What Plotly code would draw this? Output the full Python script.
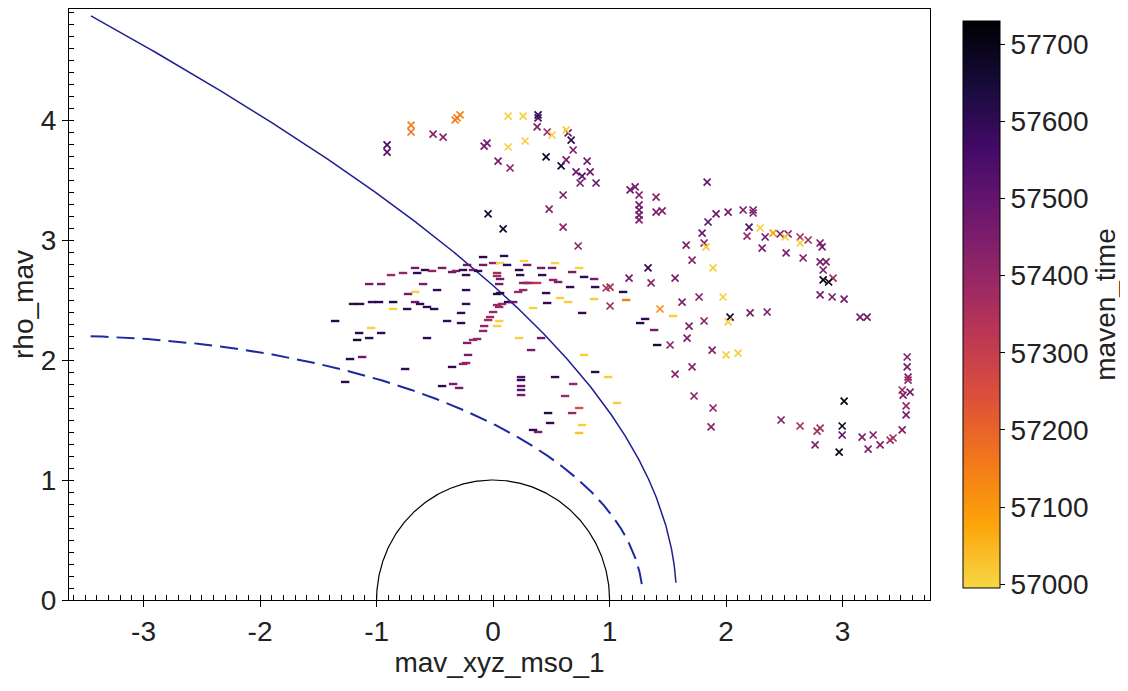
import numpy as np
import plotly.graph_objects as go

# ---------------- data: "x" markers (mav_xyz_mso_1, rho_mav, maven_time) ----------------
cross_top_x = [-0.910, -0.910, -0.704, -0.704, -0.515, -0.429, -0.326, -0.283, -0.309, 0.129,
               0.258, 0.386, 0.386, 0.378, 0.464, 0.506, 0.644, 0.627, 0.670, -0.052,
               -0.077, 0.129, 0.275, 0.455, 0.584, 0.627, 0.807, 0.687, 0.712, 0.764,
               0.833, 0.884, 0.747, 0.601, 0.481, 0.601, 0.730, -0.043, 0.086, 0.043, 0.146]
cross_top_y = [3.792, 3.733, 3.958, 3.90, 3.883, 3.858, 4.0, 4.042, 4.017, 4.033,
               4.033, 4.042, 4.017, 3.942, 3.90, 3.875, 3.892, 3.917, 3.833, 3.808,
               3.783, 3.775, 3.825, 3.692, 3.617, 3.667, 3.658, 3.75, 3.567, 3.533,
               3.567, 3.475, 3.475, 3.375, 3.258, 3.108, 2.95, 3.217, 3.092, 3.658, 3.60]
cross_top_t = [57560, 57520, 57150, 57170, 57420, 57420, 57170, 57140, 57150, 57005,
               57008, 57620, 57560, 57440, 57400, 57010, 57480, 57005, 57600, 57480,
               57460, 57010, 57012, 57680, 57650, 57460, 57460, 57460, 57480, 57530,
               57480, 57500, 57460, 57460, 57420, 57420, 57420, 57650, 57680, 57460, 57420]

cross_arc_x = [1.219, 1.176, 1.253, 1.399, 1.253, 1.253, 1.253, 1.253, 1.399, 1.451,
               1.837, 1.845, 1.914, 2.017, 2.146, 2.232, 2.232, 2.197, 2.180, 2.292,
               2.335, 2.309, 2.403, 2.464, 2.532, 2.506, 2.635, 2.704, 2.635, 2.807,
               2.824, 2.515, 2.661, 2.807, 2.858, 2.833, 2.833, 2.918, 2.88, 2.807,
               2.910, 3.013, 3.150, 3.21]
cross_arc_y = [3.442, 3.417, 3.375, 3.358, 3.292, 3.25, 3.208, 3.167, 3.233, 3.242,
               3.483, 3.15, 3.217, 3.233, 3.25, 3.25, 3.225, 3.108, 3.033, 3.10,
               3.025, 2.933, 3.058, 3.05, 3.05, 3.025, 3.025, 3.0, 2.975, 2.975,
               2.942, 2.892, 2.85, 2.817, 2.817, 2.75, 2.667, 2.683, 2.65, 2.542,
               2.525, 2.508, 2.358, 2.358]
cross_arc_t = [57460, 57480, 57460, 57420, 57460, 57480, 57460, 57450, 57440, 57440,
               57480, 57530, 57480, 57460, 57460, 57460, 57440, 57530, 57390, 57010,
               57480, 57460, 57090, 57460, 57460, 57010, 57370, 57370, 57015, 57460,
               57460, 57440, 57440, 57460, 57460, 57460, 57700, 57370, 57700, 57460,
               57460, 57460, 57460, 57460]

cross_mid_x = [1.811, 1.828, 1.794, 1.657, 1.708, 1.888, 1.974, 1.330, 1.167, 1.356,
               1.562, 0.970, 1.004, 1.004, 1.433, 1.768, 1.622, 1.682, 1.811, 2.034,
               2.017, 2.206, 2.352, 1.665, 1.519, 1.880, 2.0, 2.103, 1.708, 1.562,
               1.725, 1.888, 1.871]
cross_mid_y = [2.975, 2.942, 3.058, 2.958, 2.833, 2.767, 2.525, 2.767, 2.683, 2.642,
               2.683, 2.60, 2.608, 2.45, 2.425, 2.525, 2.483, 2.283, 2.325, 2.358,
               2.317, 2.392, 2.40, 2.183, 2.125, 2.083, 2.042, 2.058, 1.942, 1.883,
               1.70, 1.60, 1.442]
cross_mid_t = [57460, 57015, 57480, 57440, 57420, 57008, 57008, 57600, 57460, 57420,
               57440, 57370, 57370, 57390, 57120, 57440, 57440, 57440, 57440, 57650,
               57008, 57460, 57460, 57440, 57420, 57440, 57008, 57008, 57420, 57420,
               57420, 57420, 57420]

cross_right_x = [3.554, 3.554, 3.562, 3.562, 3.511, 3.579, 3.519, 3.545, 3.545, 3.511,
                 3.433, 3.408, 3.322, 3.262, 3.167, 3.219, 3.013, 2.996, 2.996, 2.970,
                 2.807, 2.781, 2.764, 2.635, 2.472]
cross_right_y = [2.025, 1.942, 1.858, 1.833, 1.75, 1.733, 1.708, 1.617, 1.542, 1.417,
                 1.35, 1.333, 1.292, 1.375, 1.358, 1.258, 1.658, 1.45, 1.375, 1.233,
                 1.433, 1.408, 1.292, 1.45, 1.50]
cross_right_t = [57440, 57460, 57440, 57390, 57390, 57460, 57440, 57390, 57460, 57440,
                 57370, 57370, 57440, 57440, 57440, 57440, 57700, 57680, 57530, 57700,
                 57370, 57370, 57440, 57370, 57440]

# ---------------- data: "-" markers ----------------
dash_x = [-0.086, 0.094, 0.266, -0.670, -0.584, -0.524, -0.438, -0.352, -0.318, -0.258, -0.223,
          -0.172, -0.129, -0.086, 0.0, 0.060, 0.120, 0.223, 0.292, 0.412, 0.506, 0.532,
          -0.876, -0.773, -0.652, -0.232, 0.034, 0.034, 0.060, 0.232, 0.258, 0.292, 0.318, 0.378, 0.421,
          -1.064, -0.961, -0.601, -0.730, -0.670, -0.481, -0.232, 0.052, 0.034, 0.060, 0.215, 0.258, 0.455,
          -1.202, -1.142, -1.039, -0.979, -0.858, -0.858, -0.738, -0.670, -0.627, -0.567, -0.506, -0.232,
          0.034, 0.077, 0.052, 0.129, 0.172, 0.343, 0.464,
          -1.356, -1.047, -0.961, -1.064, -1.150, -1.167, -0.567, -0.395, -0.275, -0.275, 0.0, -0.026,
          -0.043, 0.052, 0.034, -0.077, -0.086, -0.137, -0.172, -0.223, 0.223, 0.412, 0.326,
          -1.228, -1.124, -0.755, -0.352, -0.215, -0.232, -0.258, -1.270, -0.438, -0.343, -0.292,
          0.240, 0.240, 0.240, 0.240, 0.240,
          0.678, 0.738, 0.781, 0.867, 0.876, 1.116, 1.142, 0.867, 0.764, 0.661, 0.558, 0.515,
          0.575, 0.644,
          1.262, 1.305, 1.382, 1.408, 0.781, 0.876, 0.987, 0.532, 0.687, 0.618, 1.064, 0.738, 0.678,
          0.472, 0.489, 0.764, 0.738, 0.343, 0.386, 1.545]
dash_y = [2.858, 2.867, 2.825, 2.767, 2.75, 2.742, 2.767, 2.733, 2.742, 2.75, 2.792,
          2.75, 2.742, 2.792, 2.808, 2.808, 2.792, 2.75, 2.792, 2.767, 2.767, 2.808,
          2.708, 2.725, 2.725, 2.708, 2.725, 2.70, 2.675, 2.708, 2.642, 2.642, 2.642, 2.642, 2.708,
          2.633, 2.633, 2.633, 2.55, 2.567, 2.583, 2.583, 2.633, 2.55, 2.558, 2.567, 2.583, 2.558,
          2.467, 2.467, 2.483, 2.483, 2.483, 2.425, 2.425, 2.483, 2.467, 2.442, 2.425, 2.467,
          2.458, 2.467, 2.442, 2.483, 2.483, 2.433, 2.475,
          2.325, 2.267, 2.225, 2.183, 2.225, 2.167, 2.183, 2.325, 2.392, 2.308, 2.40, 2.358,
          2.333, 2.325, 2.283, 2.283, 2.242, 2.175, 2.167, 2.142, 2.183, 2.183, 2.083,
          2.008, 2.025, 1.925, 1.942, 2.042, 1.975, 1.967, 1.817, 1.783, 1.80, 1.767,
          1.858, 1.833, 1.783, 1.75, 1.708,
          2.733, 2.767, 2.692, 2.675, 2.608, 2.567, 2.50, 2.508, 2.392, 2.608, 2.65, 2.667,
          2.517, 2.483,
          2.308, 2.342, 2.25, 2.125, 2.042, 1.90, 1.858, 1.858, 1.80, 1.70, 1.642, 1.60, 1.558,
          1.558, 1.475, 1.458, 1.392, 1.417, 1.40, 2.367]
dash_t = [57620, 57600, 57005, 57460, 57600, 57410, 57460, 57480, 57440, 57600, 57480,
          57460, 57600, 57480, 57410, 57005, 57600, 57620, 57480, 57460, 57460, 57000,
          57390, 57410, 57600, 57600, 57370, 57370, 57460, 57600, 57410, 57410, 57390, 57320, 57600,
          57460, 57460, 57460, 57460, 57005, 57600, 57600, 57460, 57620, 57620, 57390, 57390, 57600,
          57600, 57600, 57600, 57600, 57620, 57005, 57600, 57480, 57600, 57600, 57600, 57600,
          57390, 57390, 57390, 57600, 57480, 57005, 57600,
          57620, 57005, 57600, 57600, 57620, 57650, 57600, 57600, 57600, 57600, 57390, 57390,
          57390, 57005, 57005, 57410, 57410, 57390, 57390, 57440, 57005, 57480, 57460,
          57620, 57480, 57600, 57600, 57460, 57410, 57410, 57620, 57600, 57460, 57460,
          57530, 57600, 57480, 57530, 57460,
          57460, 57005, 57600, 57460, 57600, 57620, 57150, 57010, 57600, 57600, 57460, 57410,
          57010, 57010,
          57620, 57600, 57460, 57650, 57010, 57620, 57010, 57600, 57410, 57390, 57010, 57250, 57390,
          57620, 57600, 57010, 57030, 57600, 57460, 57010]

# ---------------- model boundaries (conic: x0, L, e) ----------------
bow_shock_params = [0.55, 2.10, 1.05]
mpb_params = [0.78, 0.96, 0.90]
mars_radius = 1.0
x_tick_vals = [-3, -2, -1, 0, 1, 2, 3]
x_tick_text = ["-3", "-2", "-1", "0", "1", "2", "3"]
y_tick_vals = [0, 1, 2, 3, 4]
cbar_ticks = [57000, 57100, 57200, 57300, 57400, 57500, 57600, 57700]

def conic(params, th_min, x_min):
    x0, L, e = params
    th = np.linspace(th_min, np.pi * 0.95, 2000)
    r = L / (1 + e * np.cos(th))
    x = x0 + r * np.cos(th)
    rho = r * np.sin(th)
    keep = (x >= x_min) & (r > 0)
    return x[keep], rho[keep]

bsx, bsy = conic(bow_shock_params, 0.14, -3.46)
mpx, mpy = conic(mpb_params, 0.26, -3.46)
phi = np.linspace(0, np.pi, 300)
mx, my = mars_radius * np.cos(phi), mars_radius * np.sin(phi)

cross_x = cross_top_x + cross_arc_x + cross_mid_x + cross_right_x
cross_y = cross_top_y + cross_arc_y + cross_mid_y + cross_right_y
cross_t = cross_top_t + cross_arc_t + cross_mid_t + cross_right_t

# inferno, reversed, truncated (yellow end is #f6d746)
inferno = ['#000004', '#160b39', '#420a68', '#6a176e', '#932667', '#bc3754',
           '#dd513a', '#f37819', '#fca50a', '#f6d746']
cscale = [[i / 9, c] for i, c in enumerate(inferno[::-1])]

FONT = "Liberation Sans, Arial"
TXT = "#222222"
FS = 28

fig = go.Figure()
fig.add_trace(go.Scatter(x=mx, y=my, mode="lines", line=dict(color="black", width=1.2),
                         showlegend=False, hoverinfo="skip"))
fig.add_trace(go.Scatter(x=mpx, y=mpy, mode="lines",
                         line=dict(color="#1c2aa0", width=2, dash="18px,8px"),
                         showlegend=False, hoverinfo="skip"))
fig.add_trace(go.Scatter(x=bsx, y=bsy, mode="lines", line=dict(color="#1f1f90", width=1.5),
                         showlegend=False, hoverinfo="skip"))
fig.add_trace(go.Scatter(x=dash_x, y=dash_y, mode="markers",
                         marker=dict(symbol="line-ew", size=6, color=dash_t, coloraxis="coloraxis",
                                     line=dict(width=2.4, color=dash_t, coloraxis="coloraxis")),
                         showlegend=False))
fig.add_trace(go.Scatter(x=cross_x, y=cross_y, mode="markers",
                         marker=dict(symbol="x-thin", size=7, color=cross_t, coloraxis="coloraxis",
                                     line=dict(width=1.7, color=cross_t, coloraxis="coloraxis")),
                         showlegend=False))

axis_common = dict(showline=True, linecolor="black", linewidth=1, mirror=True,
                   showgrid=False, zeroline=False, ticks="outside", ticklen=6,
                   tickcolor="black", tickfont=dict(family=FONT, size=FS, color=TXT),
                   automargin=False,
                   minor=dict(ticks="inside", ticklen=5, tickcolor="black", dtick=0.1, showgrid=False))

# the page adds an 8px body margin, so the figure is 1120x683 placed at (8, 8)
fig.update_layout(
    width=1120, height=683,
    margin=dict(l=61, r=198, t=1, b=91, autoexpand=False),
    paper_bgcolor="white", plot_bgcolor="white",
    font=dict(family=FONT, size=FS, color=TXT),
    xaxis=dict(range=[-3.64, 3.75], tickvals=x_tick_vals, ticktext=x_tick_text,
               title=dict(text="mav_xyz_mso_1", font=dict(family=FONT, size=FS, color=TXT), standoff=4),
               **axis_common),
    yaxis=dict(range=[0, 4.925], tickvals=y_tick_vals,
               title=dict(text="rho_mav", font=dict(family=FONT, size=FS, color=TXT), standoff=8),
               **axis_common),
    coloraxis=dict(colorscale=cscale, cmin=56995, cmax=57730,
                   colorbar=dict(x=1.0267, xanchor="left", y=0.5, yanchor="middle", len=0.993,
                                 thickness=37, outlinewidth=1, outlinecolor="black",
                                 ticks="outside", ticklen=5, tickcolor="black",
                                 tickvals=cbar_ticks, tickformat="d",
                                 tickfont=dict(family=FONT, size=FS, color=TXT),
                                 title=dict(text="maven_time", side="right",
                                            font=dict(family=FONT, size=FS, color=TXT)))),
)

fig.write_html("out.html")
